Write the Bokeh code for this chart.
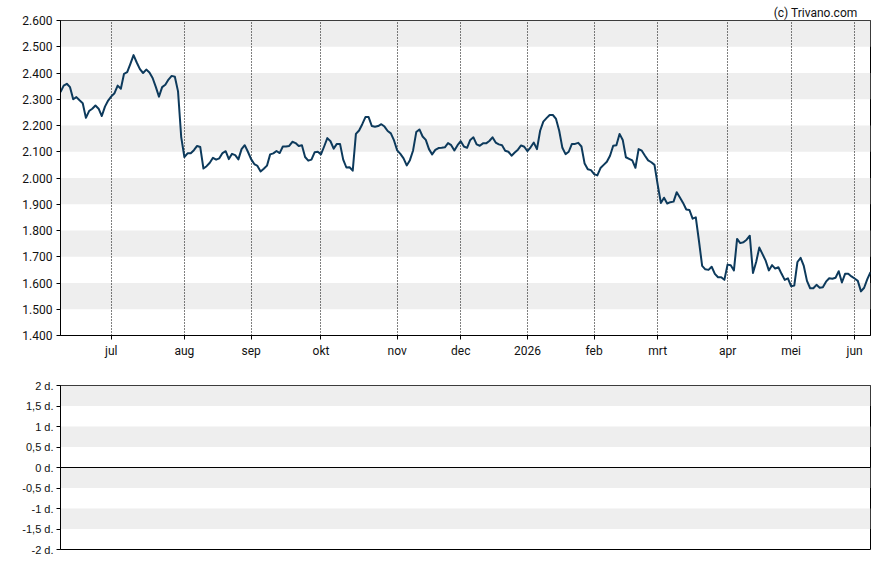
from bokeh.plotting import figure
from bokeh.layouts import column
from bokeh.models import Range1d, FixedTicker, Span
from bokeh.embed import file_html
from bokeh.resources import INLINE

# daily closes (trading-day index)
closes = [
    2327, 2352, 2359, 2346, 2300, 2308, 2296, 2285, 2229, 2255,
    2264, 2276, 2264, 2236, 2272, 2295, 2311, 2323, 2352, 2340,
    2397, 2403, 2435, 2468, 2440, 2415, 2400, 2413, 2402, 2381,
    2347, 2310, 2346, 2355, 2375, 2389, 2386, 2330, 2156, 2080,
    2094, 2094, 2106, 2122, 2118, 2036, 2045, 2058, 2077, 2070,
    2075, 2095, 2102, 2072, 2092, 2087, 2071, 2110, 2125, 2100,
    2072, 2053, 2046, 2025, 2035, 2047, 2090, 2094, 2103, 2095,
    2120, 2120, 2122, 2138, 2133, 2122, 2125, 2080, 2066, 2070,
    2098, 2100, 2090, 2120, 2152, 2140, 2112, 2130, 2130, 2070,
    2040, 2041, 2028, 2168, 2181, 2205, 2232, 2232, 2198, 2195,
    2198, 2205, 2196, 2179, 2170, 2143, 2105, 2092, 2075, 2048,
    2068, 2105, 2175, 2185, 2158, 2145, 2110, 2090, 2107, 2114,
    2115, 2117, 2133, 2125, 2105, 2125, 2140, 2120, 2115, 2145,
    2155, 2128, 2123, 2132, 2132, 2141, 2155, 2135, 2128, 2125,
    2104, 2100, 2085, 2097, 2108, 2124, 2119, 2102, 2117, 2135,
    2110, 2180, 2215, 2228, 2240, 2240, 2225, 2180, 2115, 2091,
    2100, 2130, 2130, 2134, 2120, 2055, 2033, 2030, 2015, 2010,
    2038, 2050, 2062, 2085, 2123, 2125, 2168, 2145, 2079, 2073,
    2067, 2039, 2110, 2104, 2085, 2067, 2060, 2050, 1975, 1905,
    1925, 1903, 1908, 1910, 1946, 1926, 1905, 1880, 1878, 1845,
    1850, 1760, 1665, 1652, 1650, 1662, 1635, 1622, 1622, 1612,
    1670, 1668, 1648, 1768, 1752, 1755, 1765, 1780, 1638, 1680,
    1735, 1710, 1685, 1648, 1668, 1655, 1660, 1635, 1612, 1618,
    1588, 1590, 1680, 1696, 1665, 1608, 1580, 1580, 1593, 1582,
    1584, 1605, 1618, 1616, 1620, 1645, 1602, 1635, 1635, 1625,
    1617, 1608, 1568, 1582, 1615, 1641,
]
day_index = list(range(len(closes)))

month_ticks = [16, 39, 60, 82, 106, 126, 147, 168, 188, 210, 230, 250]
month_labels = ["jul", "aug", "sep", "okt", "nov", "dec", "2026", "feb", "mrt", "apr", "mei", "jun"]

price_ticks = [1400, 1500, 1600, 1700, 1800, 1900, 2000, 2100, 2200, 2300, 2400, 2500, 2600]
price_labels = ["1.400", "1.500", "1.600", "1.700", "1.800", "1.900", "2.000", "2.100",
                "2.200", "2.300", "2.400", "2.500", "2.600"]

lower_ticks = [-2, -1.5, -1, -0.5, 0, 0.5, 1, 1.5, 2]
lower_labels = ["-2 d.", "-1,5 d.", "-1 d.", "-0,5 d.", "0 d.", "0,5 d.", "1 d.", "1,5 d.", "2 d."]

LINE = "#0d3a5c"
BAND = "#eeeeee"
TXT = "#111111"

xr = Range1d(0, len(closes) - 1)

p = figure(width=888, height=365, x_range=xr, y_range=Range1d(1400, 2600),
           output_backend="svg", toolbar_location=None,
           min_border_left=60, min_border_right=18, min_border_top=20, min_border_bottom=30)
p.title.text = "(c) Trivano.com"
p.title.align = "right"
p.title.text_font = "Roboto"
p.title.text_font_size = "12px"
p.title.text_font_style = "normal"
p.title.text_color = TXT
p.title.standoff = 2
p.title.offset = 13
p.background_fill_color = "white"
p.outline_line_color = "black"
p.outline_line_alpha = 1
p.outline_line_width = 1

p.line(day_index, closes, line_color=LINE, line_width=2, line_join="round")

for ax in (p.xaxis[0], p.yaxis[0]):
    ax.axis_line_color = "black"
    ax.major_tick_line_color = "black"
    ax.major_tick_out = 4
    ax.major_tick_in = 0
    ax.minor_tick_line_color = None
    ax.major_label_text_font = "Roboto"
    ax.major_label_text_font_size = "12px"
    ax.major_label_text_color = TXT
    ax.major_label_standoff = 4

p.xaxis.ticker = FixedTicker(ticks=month_ticks)
p.xaxis.major_label_overrides = dict(zip(month_ticks, month_labels))
p.yaxis.ticker = FixedTicker(ticks=price_ticks)
p.yaxis.major_label_overrides = dict(zip(price_ticks, price_labels))

p.xgrid.ticker = FixedTicker(ticks=month_ticks)
p.xgrid.grid_line_color = "black"
p.xgrid.grid_line_dash = "1 2"
p.xgrid.grid_line_width = 1
p.ygrid.ticker = FixedTicker(ticks=price_ticks)
p.ygrid.grid_line_color = None
p.ygrid.band_fill_color = BAND
p.ygrid.band_fill_alpha = 1
p.center = [p.ygrid[0], p.xgrid[0]]

q = figure(width=888, height=200, x_range=xr, y_range=Range1d(-2, 2),
           output_backend="svg", toolbar_location=None,
           min_border_left=60, min_border_right=18, min_border_top=20, min_border_bottom=16)
q.outline_line_color = "black"
q.outline_line_alpha = 1
q.xaxis.visible = False
q.xgrid.grid_line_color = None
q.ygrid.ticker = FixedTicker(ticks=lower_ticks)
q.ygrid.grid_line_color = None
q.ygrid.band_fill_color = BAND
q.ygrid.band_fill_alpha = 1
ya = q.yaxis[0]
ya.ticker = FixedTicker(ticks=lower_ticks)
ya.major_label_overrides = dict(zip(lower_ticks, lower_labels))
ya.axis_line_color = "black"
ya.major_tick_line_color = "black"
ya.major_tick_out = 4
ya.major_tick_in = 0
ya.minor_tick_line_color = None
ya.major_label_text_font = "Liberation Sans"
ya.major_label_text_font_size = "11px"
ya.major_label_text_color = TXT
ya.major_label_standoff = 3
q.add_layout(Span(location=0, dimension="width", line_color="black", line_width=1))

layout = column(p, q)
open("out.html", "w").write(file_html(layout, INLINE))
